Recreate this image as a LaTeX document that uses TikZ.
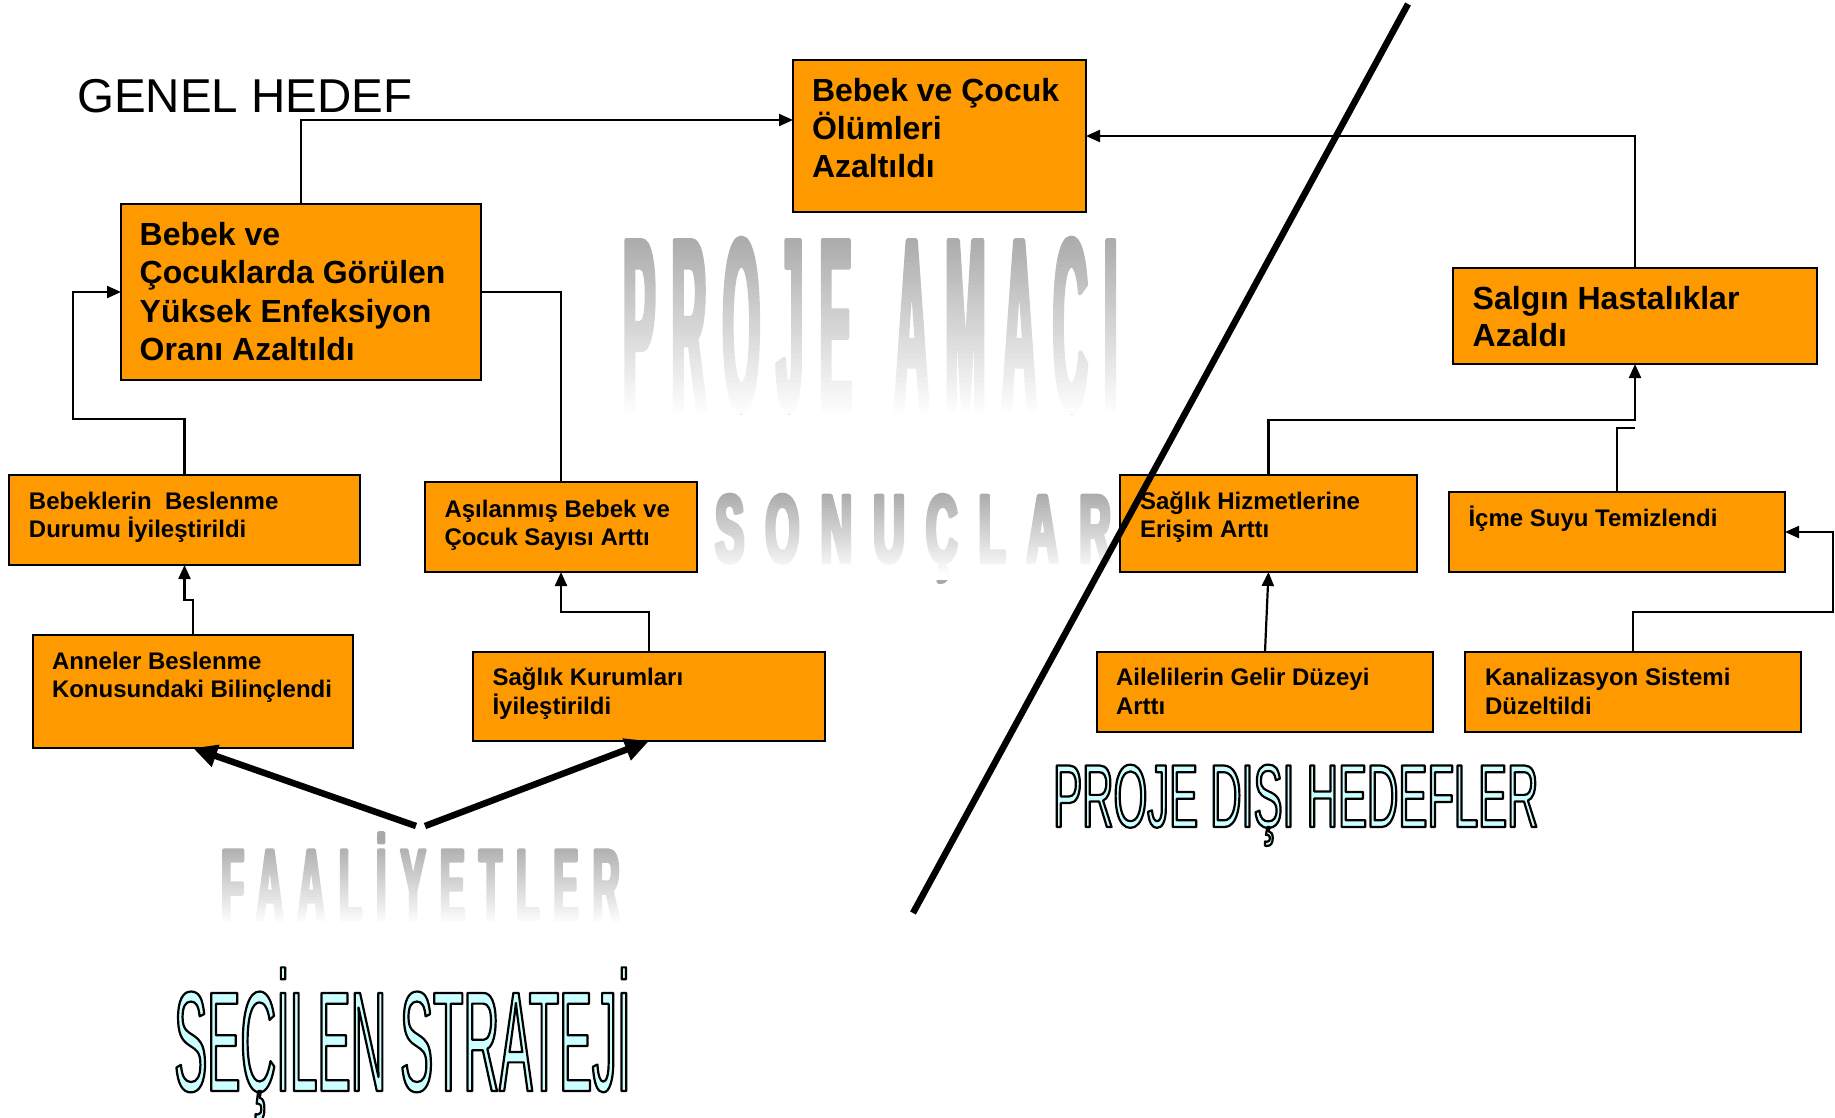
\documentclass[tikz,border=0pt]{standalone}
\usepackage{fontspec}
\setmainfont{Liberation Sans}
\newfontfamily\olA[FakeStretch=0.348]{Liberation Sans}
\newfontfamily\olB[FakeStretch=0.486]{Liberation Sans}
\newfontfamily\wmA[FakeStretch=0.195,LetterSpace=6.6]{Liberation Sans}
\newfontfamily\wmB[FakeStretch=0.45,LetterSpace=22.2]{Liberation Sans}
\newfontfamily\wmC[FakeStretch=0.37,LetterSpace=13.8]{Liberation Sans}
\usetikzlibrary{arrows.meta}
\definecolor{boxor}{HTML}{FF9900}
\definecolor{wmgray}{HTML}{A8A8A8}
\definecolor{cyanfill}{HTML}{CCFFFF}
% width, height, font size, baselineskip, first baseline, left pad, text
\newcommand\bxt[7]{\parbox[t][#2pt][t]{#1pt}{\fontsize{#3pt}{#4pt}\selectfont\bfseries\raggedright\leftskip=#6pt\relax
  \vspace*{\dimexpr#5pt-#3pt*95/100\relax}\rule{0pt}{\dimexpr#3pt*95/100\relax}#7\par}}
\newcommand\outl[1]{\special{pdf:literal direct 2 Tr 2.2 w 1 j 0 0 0 RG}#1\special{pdf:literal direct 0 Tr}}
\newcommand\fat[2]{\special{pdf:literal direct 2 Tr #1 w 1 j}#2\special{pdf:literal direct 0 Tr}}
\begin{document}
\begin{tikzpicture}[x=1pt,y=-1pt,
  box/.style={draw=black, line width=2.3pt, fill=boxor, inner sep=0pt, outer sep=0pt, anchor=north west},
  conn/.style={draw=black, line width=2.2pt},
  arr/.style={conn, -{Triangle[length=14pt,width=12pt]}},
  bigarr/.style={draw=black, line width=6.5pt, -{Triangle[length=24pt,width=22pt]}},
  wm/.style={text=wmgray, inner sep=0pt, anchor=base west},
  ol/.style={text=cyanfill, inner sep=0pt, anchor=base west},
  title/.style={inner sep=0pt, anchor=base west, font=\fontsize{47.5pt}{56pt}\selectfont}]
\useasboundingbox (0,0) rectangle (1835,1117);

% watermark texts, fading downwards
\node[wm] (pa) at (623,410) {\wmA\bfseries\fontsize{247pt}{260pt}\selectfont\fat{4}{PROJE \hspace{13pt}AMACI}};
\foreach \i [evaluate=\i as \op using {min(1,(\i+0.5)/40)}] in {0,...,39}
  \fill[white, fill opacity=\op] (612,{230+4.6*\i}) rectangle (1135,{230+4.6*(\i+1)});
\node[wm] (so) at (715,562) {\wmB\bfseries\fontsize{96.4pt}{100pt}\selectfont\fat{4}{SONUÇLAR}};
\foreach \i [evaluate=\i as \op using {min(1,(\i+0.5)*0.0354)}] in {0,...,29}
  \fill[white, fill opacity=\op] (705,{490+3*\i}) rectangle (1118,{490+3*(\i+1)});
\node[wm] (fa) at (221,920) {\wmC\bfseries\fontsize{102pt}{110pt}\selectfont\fat{3}{FAALİYETLER}};
\foreach \i [evaluate=\i as \op using {min(1,(\i+0.5)/28)}] in {0,...,27}
  \fill[white, fill opacity=\op] (210,{840+3*\i}) rectangle (640,{840+3*(\i+1)});

% outlined texts
\node[ol] (ss) at (174,1091) {\olA\fontsize{142.5pt}{150pt}\selectfont\outl{SEÇİLEN STRATEJİ}};
\node[ol] (pd) at (1053,827) {\olB\fontsize{89.4pt}{95pt}\selectfont\outl{PROJE DIŞI HEDEFLER}};

% title
\node[title] (gh) at (77,112) {GENEL HEDEF};

% boxes
\node[box] (A) at (793,60) {\bxt{293}{152}{32}{38}{41.5}{19}{Bebek ve Çocuk\\Ölümleri\\Azaltıldı}};
\node[box] (B) at (121,204) {\bxt{360}{176}{32}{38.5}{41}{18.7}{Bebek ve\\Çocuklarda Görülen\\Yüksek Enfeksiyon\\Oranı Azaltıldı}};
\node[box] (C) at (1453,268) {\bxt{364}{96}{32}{37.5}{41}{19.7}{Salgın Hastalıklar\\Azaldı}};
\node[box] (D) at (9,475) {\bxt{351}{90}{24}{28.8}{34}{20}{Bebeklerin\ \ Beslenme\\Durumu İyileştirildi}};
\node[box] (E) at (425,482) {\bxt{272}{90}{24}{28.8}{35}{19.5}{Aşılanmış Bebek ve\\Çocuk Sayısı Arttı}};
\node[box] (H) at (1120,475) {\bxt{297}{97}{24}{28.8}{34}{20}{Sağlık Hizmetlerine\\Erişim Arttı}};
\node[box] (I) at (1449,492) {\bxt{336}{80}{24}{28.8}{34}{19.5}{İçme Suyu Temizlendi}};
\node[box] (F) at (33,635) {\bxt{320}{113}{24}{28.8}{34}{19}{Anneler Beslenme\\Konusundaki Bilinçlendi}};
\node[box] (G) at (473,652) {\bxt{352}{89}{24}{28.8}{33.5}{19.5}{Sağlık Kurumları\\İyileştirildi}};
\node[box] (J) at (1097,652) {\bxt{336}{80}{24}{28.8}{33.5}{19}{Ailelilerin Gelir Düzeyi\\Arttı}};
\node[box] (K) at (1465,652) {\bxt{336}{80}{24}{28.8}{33.5}{20}{Kanalizasyon Sistemi\\Düzeltildi}};

% connectors
\draw[arr] (B.north) |- (A.west |- 0,120);
\draw[arr] (C.north) |- (A.east);
\draw[arr] (D.north) |- (73,419) |- (B.west);
\draw[conn] (E.north) |- (B.east);
\draw[arr] (F.north) |- (D.south |- 0,600) -- (D.south);
\draw[arr] (G.north) |- (E.south |- 0,612) -- (E.south);
\draw[arr] (H.north) |- (C.south |- 0,420) -- (C.south);
\draw[conn] (I.north) |- (C.south |- 0,428);
\draw[arr] (J.north) -- (H.south);
\draw[arr] (K.north) |- (1833,612) |- (I.east);

% strategy arrows
\coordinate (s1) at (416,826);
\coordinate (s2) at (425,826);
\draw[bigarr] (s1) -- (F.south);
\draw[bigarr] (s2) -- (G.south);

% dividing line
\coordinate (d1) at (1408,4);
\coordinate (d2) at (913,913);
\draw[line width=6.5pt] (d1) -- (d2);
\end{tikzpicture}
\end{document}
